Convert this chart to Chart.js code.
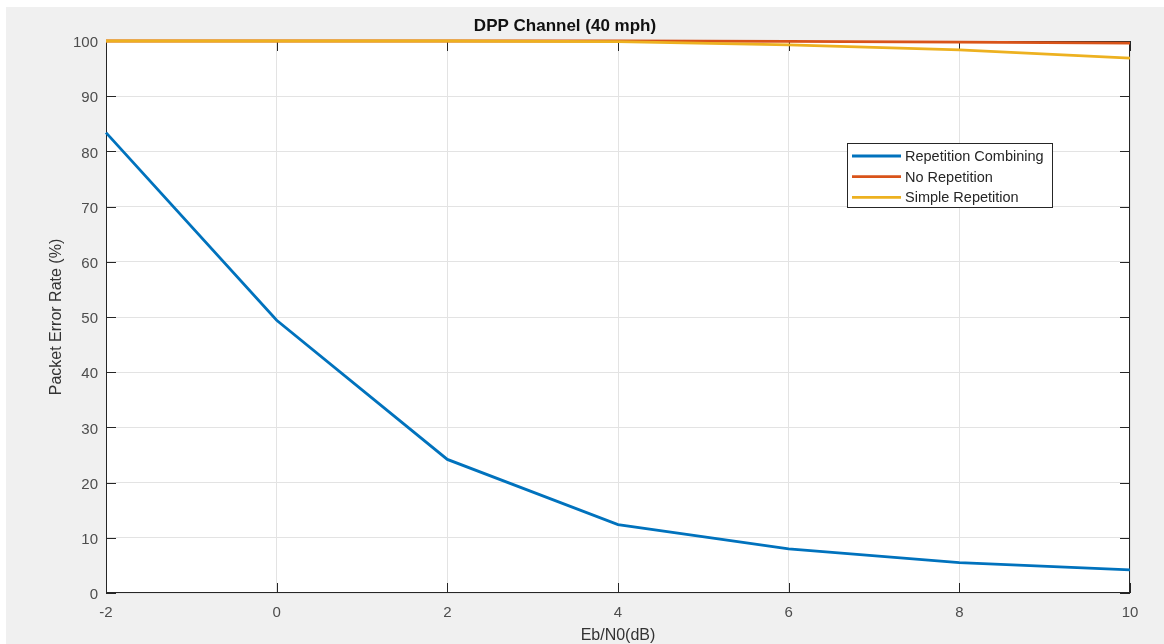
<!DOCTYPE html>
<html>
<head>
<meta charset="utf-8">
<script src="https://cdn.jsdelivr.net/npm/chart.js@4/dist/chart.umd.min.js"></script>
<style>
  html, body { margin: 0; padding: 0; background: #ffffff; }
  canvas { display: block; }
</style>
</head>
<body>
<canvas id="c" width="1164" height="644"></canvas>
<script>
// ---- Data ----
const ebN0 = [-2, 0, 2, 4, 6, 8, 10];
const repetitionCombining = [83.4, 49.4, 24.2, 12.4, 8.0, 5.5, 4.2];
const noRepetition = [100, 100, 100, 100, 99.95, 99.8, 99.6];
const simpleRepetition = [100, 100, 100, 99.9, 99.3, 98.4, 96.9];
const seriesLabels = ['Repetition Combining', 'No Repetition', 'Simple Repetition'];
const xTicks = [-2, 0, 2, 4, 6, 8, 10];
const yTicks = [0, 10, 20, 30, 40, 50, 60, 70, 80, 90, 100];
const chartTitle = 'DPP Channel (40 mph)';
const xTitle = 'Eb/N0(dB)';
const yTitle = 'Packet Error Rate (%)';

const colors = ['#0072BD', '#D95319', '#EDB120'];
const FONT = '"Liberation Sans", Arial, Helvetica, sans-serif';

function toPoints(ys) { return ebN0.map((x, i) => ({ x: x, y: ys[i] })); }

const bgPlugin = {
  id: 'matlabBg',
  beforeDraw(chart) {
    const { ctx, width, height, chartArea: a } = chart;
    ctx.save();
    ctx.fillStyle = '#ffffff';
    ctx.fillRect(0, 0, width, height);
    ctx.fillStyle = '#f0f0f0';
    ctx.fillRect(6, 7, width - 6, height - 7);
    ctx.fillStyle = '#ffffff';
    ctx.fillRect(a.left, a.top, a.right - a.left, a.bottom - a.top);
    ctx.restore();
  },
  beforeDatasetsDraw(chart) {
    const { ctx, chartArea: a, scales } = chart;
    ctx.save();
    ctx.strokeStyle = '#262626';
    ctx.lineWidth = 1;
    ctx.strokeRect(Math.round(a.left) + 0.5, Math.round(a.top) + 0.5,
                   Math.round(a.right - a.left) - 1, Math.round(a.bottom - a.top) - 1);
    // inward tick marks
    const tl = 10;
    ctx.beginPath();
    xTicks.forEach(v => {
      const px = Math.round(scales.x.getPixelForValue(v)) + 0.5;
      ctx.moveTo(px, a.bottom); ctx.lineTo(px, a.bottom - tl);
      ctx.moveTo(px, a.top); ctx.lineTo(px, a.top + tl);
    });
    yTicks.forEach(v => {
      const py = Math.round(scales.y.getPixelForValue(v)) + 0.5;
      ctx.moveTo(a.left, py); ctx.lineTo(a.left + tl, py);
      ctx.moveTo(a.right, py); ctx.lineTo(a.right - tl, py);
    });
    ctx.stroke();
    ctx.restore();
  },
  afterDatasetsDraw(chart) {
    const { ctx, chartArea: a } = chart;
    // legend box (inside axes, upper right)
    const bx = a.left + 741, by = a.top + 102, bw = 206, bh = 65;
    ctx.save();
    ctx.fillStyle = '#ffffff';
    ctx.fillRect(bx, by, bw, bh);
    ctx.strokeStyle = '#262626';
    ctx.lineWidth = 1;
    ctx.strokeRect(bx + 0.5, by + 0.5, bw - 1, bh - 1);
    ctx.font = '14.5px ' + FONT;
    ctx.textBaseline = 'middle';
    ctx.textAlign = 'left';
    chart.data.datasets.forEach((ds, i) => {
      const y = by + 13 + i * 20.7;
      ctx.strokeStyle = ds.borderColor;
      ctx.lineWidth = 2.8;
      ctx.beginPath();
      ctx.moveTo(bx + 5, y); ctx.lineTo(bx + 54, y);
      ctx.stroke();
      ctx.fillStyle = '#262626';
      ctx.fillText(ds.label, bx + 58, y + 1);
    });
    ctx.restore();
  }
};

const datasets = [repetitionCombining, noRepetition, simpleRepetition].map((ys, i) => ({
  label: seriesLabels[i],
  data: toPoints(ys),
  borderColor: colors[i],
  backgroundColor: colors[i],
  borderWidth: 2.8,
  pointRadius: 0,
  tension: 0,
  clip: false,
  order: 2 - i
}));

new Chart(document.getElementById('c'), {
  type: 'line',
  data: { datasets: datasets },
  options: {
    responsive: false,
    animation: false,
    devicePixelRatio: 1,
    layout: { padding: { top: 7, right: 34, bottom: 0, left: 0 } },
    plugins: {
      legend: { display: false },
      tooltip: { enabled: false },
      title: {
        display: true,
        text: chartTitle,
        color: '#111111',
        font: { family: FONT, size: 17, weight: 'bold', lineHeight: 1 },
        padding: { top: 11, bottom: 6 }
      }
    },
    scales: {
      x: {
        type: 'linear',
        min: -2, max: 10,
        afterFit(s) { s.height = 51; },
        afterBuildTicks(s) { s.ticks = xTicks.map(v => ({ value: v })); },
        ticks: {
          color: '#4d4d4d',
          font: { family: FONT, size: 15 },
          padding: 11,
          maxRotation: 0
        },
        grid: { color: '#e3e3e3', drawTicks: false, lineWidth: 1 },
        border: { display: false },
        title: {
          display: true, text: xTitle, color: '#333333',
          font: { family: FONT, size: 16 },
          padding: { top: 0, bottom: -1 }
        }
      },
      y: {
        type: 'linear',
        min: 0, max: 100,
        afterFit(s) { s.width = 106; },
        afterBuildTicks(s) { s.ticks = yTicks.map(v => ({ value: v })); },
        ticks: {
          color: '#4d4d4d',
          font: { family: FONT, size: 15 },
          padding: 8,
          labelOffset: 2
        },
        grid: { color: '#e3e3e3', drawTicks: false, lineWidth: 1 },
        border: { display: false },
        title: {
          display: true, text: yTitle, color: '#333333',
          font: { family: FONT, size: 16 },
          padding: { top: 47, bottom: 0 }
        }
      }
    }
  },
  plugins: [bgPlugin]
});
</script>
</body>
</html>
